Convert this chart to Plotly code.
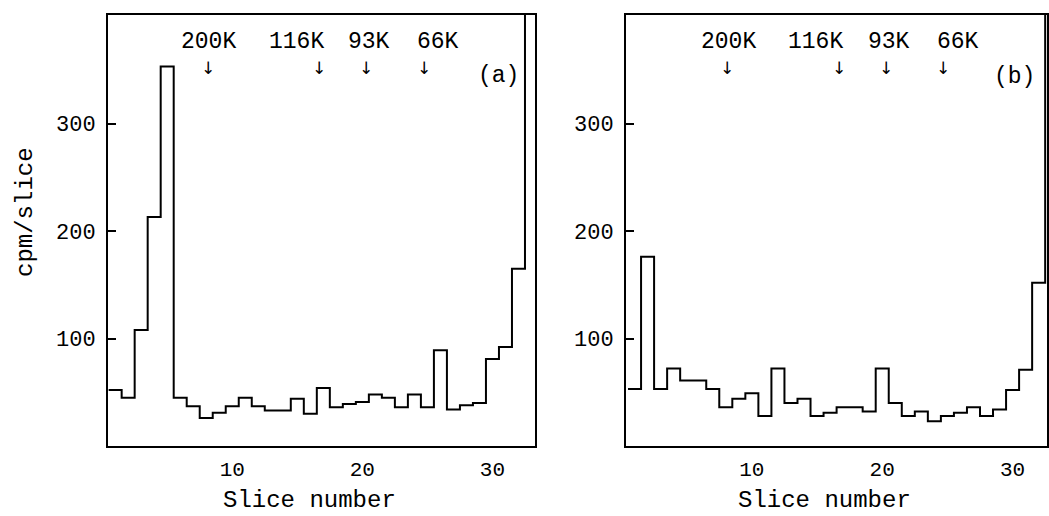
import plotly.graph_objects as go

# ---- data ----
slices = list(range(1, 34))  # slice numbers 1..33
cpm_a = [52, 45, 108, 213, 353, 45, 37, 26, 31, 37, 45, 37, 33, 33, 44, 30, 54,
         36, 39, 41, 48, 45, 36, 48, 36, 89, 34, 38, 40, 81, 92, 165, 420]
cpm_b = [53, 176, 53, 72, 61, 61, 53, 36, 44, 49, 28, 72, 40, 44, 28, 31, 36,
         36, 32, 72, 40, 28, 32, 23, 28, 31, 36, 28, 34, 52, 71, 152, 420]
marker_names = ["200K", "116K", "93K", "66K"]
marker_slices = [8.1, 16.7, 20.3, 24.7]
y_ticks = [100, 200, 300]
x_ticks = [10, 20, 30]
x_ticktext = ["10", "20", "30"]

# ---- layout constants ----
W, H = 1049, 516
FONT = "Liberation Mono"
label_shift = [0.1, -1.8, 0.2, 1.1]   # text offset relative to arrow
dom_y = [70 / H, 501 / H]

fig = go.Figure()

def edges(vals):
    # stepped histogram: slice n covers [n-0.5, n+0.5]
    xs = [s - 0.5 for s in slices] + [slices[-1] + 0.5]
    ys = list(vals) + [vals[-1]]
    return xs, ys

for vals, ax in [(cpm_a, "x"), (cpm_b, "x2")]:
    xs, ys = edges(vals)
    fig.add_trace(go.Scatter(x=xs, y=ys, mode="lines", line_shape="hv",
                             line=dict(color="black", width=2),
                             xaxis=ax, yaxis="y" if ax == "x" else "y2",
                             showlegend=False, hoverinfo="skip"))

axis_common = dict(showline=True, linecolor="black", linewidth=2, mirror=True,
                   showgrid=False, zeroline=False)

fig.update_layout(
    width=W, height=H,
    margin=dict(l=0, r=0, t=0, b=0),
    paper_bgcolor="white", plot_bgcolor="white",
    font=dict(family=FONT, color="black"),
    xaxis=dict(domain=[108 / W, 535 / W], range=[0.45, 33.27], anchor="y",
               tickvals=x_ticks, ticktext=x_ticktext, ticks="",
               tickfont=dict(size=21, family=FONT), ticklabelstandoff=3,
               **axis_common),
    yaxis=dict(domain=dom_y, range=[0, 401], anchor="x",
               tickvals=y_ticks, ticks="inside", ticklen=8, tickwidth=2,
               tickcolor="black", tickfont=dict(size=22, family=FONT),
               ticklabelstandoff=6, **axis_common),
    xaxis2=dict(domain=[626 / W, 1047 / W], range=[0.345, 32.64], anchor="y2",
                tickvals=x_ticks, ticktext=x_ticktext, ticks="",
                tickfont=dict(size=21, family=FONT), ticklabelstandoff=3,
                **axis_common),
    yaxis2=dict(domain=dom_y, range=[0, 401], anchor="x2",
                tickvals=y_ticks, ticks="inside", ticklen=8, tickwidth=2,
                tickcolor="black", tickfont=dict(size=22, family=FONT),
                ticklabelstandoff=6, **axis_common),
)

ann = []
for xr, yr in [("x", "y"), ("x2", "y2")]:
    for name, xs, sh in zip(marker_names, marker_slices, label_shift):
        ann.append(dict(x=xs + sh, y=376, xref=xr, yref=yr, text=name,
                        showarrow=False, font=dict(size=23, family=FONT)))
        ann.append(dict(x=xs, y=352, xref=xr, yref=yr, text="↓",
                        showarrow=False,
                        font=dict(size=17, family="DejaVu Sans", color="black")))
ann.append(dict(x=30.5, y=344, xref="x", yref="y", text="(a)", showarrow=False,
                font=dict(size=23, family=FONT)))
ann.append(dict(x=30.15, y=343, xref="x2", yref="y2", text="(b)", showarrow=False,
                font=dict(size=23, family=FONT)))
ann.append(dict(x=25 / W, y=1 - 212 / H, xref="paper", yref="paper",
                xanchor="center", yanchor="middle",
                text="cpm/slice", textangle=-90, showarrow=False,
                font=dict(size=24, family=FONT)))
for cx in [310 / W, 824 / W]:
    ann.append(dict(x=cx, y=1 - 500 / H, xref="paper", yref="paper",
                    xanchor="center", yanchor="middle",
                    text="Slice number", showarrow=False,
                    font=dict(size=24, family=FONT)))
fig.update_layout(annotations=ann)

fig.write_html("out.html", config={"displayModeBar": False},
               post_script="document.body.style.margin='0';"
                           "document.body.style.overflow='hidden';")
